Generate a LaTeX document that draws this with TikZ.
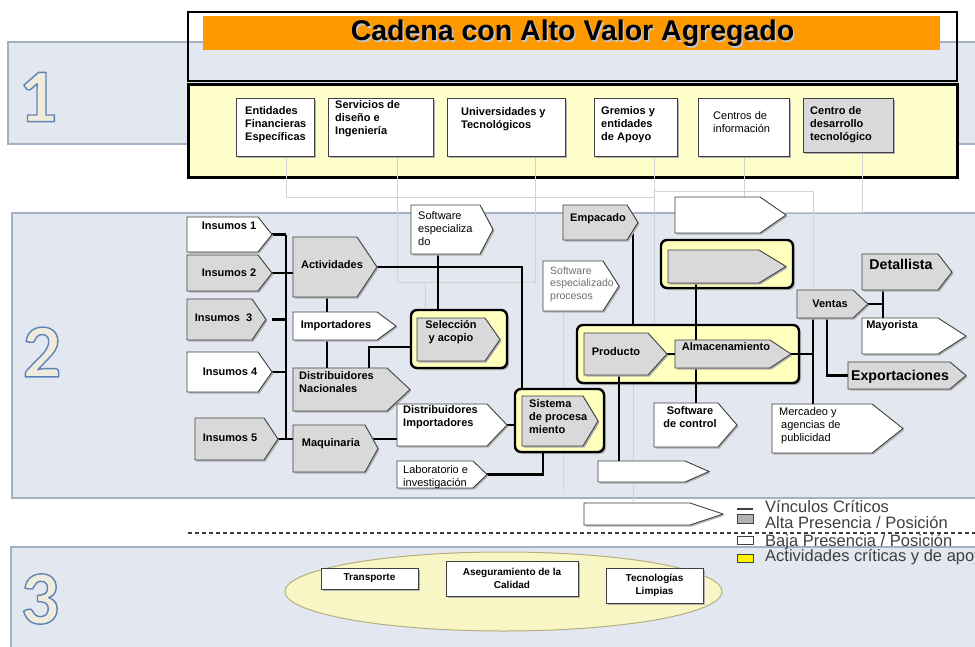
\documentclass[tikz,border=0pt]{standalone}
\usepackage{fontspec}
\setmainfont{Liberation Sans}
\newfontfamily\numfont{Carlito}
\usetikzlibrary{calc}
\definecolor{panelc}{HTML}{E3E7F0}
\definecolor{paneld}{HTML}{A3B1C7}
\definecolor{yellowc}{HTML}{FFFFCC}
\definecolor{contc}{HTML}{FFFFBE}
\definecolor{grayc}{HTML}{D9D9D9}
\definecolor{orangec}{HTML}{FF9900}
\definecolor{ellc}{HTML}{F9F6C6}
\definecolor{elld}{HTML}{B5AE7E}
\definecolor{numfill}{HTML}{EFECDD}
\definecolor{legc}{HTML}{3F3F3F}
\definecolor{shadowc}{HTML}{B0B0B0}
\definecolor{faintc}{HTML}{D2D2D2}
\definecolor{edgec}{HTML}{404040}
\definecolor{swpc}{HTML}{707070}

% outlined digit: cream fill, blue outline (text render mode 2)
\newcommand{\outlinedigit}[1]{\special{pdf:code q}\textcolor{numfill}{\special{pdf:code 2 Tr 1.4 w 1 j 0.369 0.510 0.722 RG}#1}\special{pdf:code Q}}

% pentagon arrow: name, style, x1, y1, x-rect-end, x-tip, y2
\newcommand{\mypent}[7]{%
  \fill[shadowc, shift={(1.5,1.5)}] (#3,#4) -- (#5,#4) -- (#6,{(#4+#7)/2}) -- (#5,#7) -- (#3,#7) -- cycle;
  \draw[#2] (#3,#4) -- (#5,#4) -- (#6,{(#4+#7)/2}) -- (#5,#7) -- (#3,#7) -- cycle;
  \node[inner sep=0pt, outer sep=0pt, minimum width={(#6-#3)*1pt}, minimum height={(#7-#4)*1pt}, anchor=north west] (#1) at (#3,#4) {};
}
% rectangle box with shadow: name, style, x1, y1, x2, y2
\newcommand{\myrbox}[6]{%
  \fill[shadowc] ($(#3,#4)+(2,2)$) rectangle ($(#5,#6)+(2,2)$);
  \node[#2, inner sep=0pt, outer sep=0pt, minimum width={(#5-#3)*1pt}, minimum height={(#6-#4)*1pt}, anchor=north west] (#1) at (#3,#4) {};
}
% container: name, x1, y1, x2, y2
\newcommand{\mycont}[5]{%
  \fill[shadowc, rounded corners=6pt] ($(#2,#3)+(2,2)$) rectangle ($(#4,#5)+(2,2)$);
  \node[contbox, minimum width={(#4-#2)*1pt}, minimum height={(#5-#3)*1pt}, anchor=north west] (#1) at (#2,#3) {};
}

\begin{document}
\begin{tikzpicture}[x=1pt,y=-1pt,
  panel/.style={fill=panelc, draw=paneld, line width=1.5pt},
  wbox/.style={fill=white, draw=edgec, line width=0.9pt},
  gbox/.style={fill=grayc, draw=edgec, line width=0.9pt},
  tbox/.style={fill=white, draw=edgec, line width=1pt},
  tboxg/.style={fill=grayc, draw=edgec, line width=1pt},
  contbox/.style={fill=contc, draw=black, line width=2.4pt, rounded corners=6pt, inner sep=0pt, outer sep=0pt},
  conn/.style={draw=black, line width=2.5pt},
  faint/.style={draw=faintc, line width=0.7pt},
  b11/.style={font=\fontsize{11}{13}\selectfont\bfseries, inner sep=0pt, align=left},
  r11/.style={font=\fontsize{11}{13}\selectfont, inner sep=0pt, align=left},
  b10/.style={font=\fontsize{10}{13}\selectfont\bfseries, inner sep=0pt, align=center},
  b14/.style={font=\fontsize{14.2}{16}\selectfont\bfseries, inner sep=0pt},
  legt/.style={font=\fontsize{16.5}{18}\selectfont, text=legc, inner sep=0pt, anchor=west},
  numt/.style={font=\numfont\bfseries\fontsize{76}{76}\selectfont, inner sep=0pt}
]
\useasboundingbox (0,0) rectangle (975,646);
\clip (0,0) rectangle (975,646);
\fill[white] (0,0) rectangle (975,646);

% ---------- panels ----------
\draw[panel] (8,42) rectangle (990,144);
\draw[panel] (12,213) rectangle (990,498);
\draw[panel] (11,547) rectangle (990,660);
\node[numt] (n1) at (38,97) {\outlinedigit{1}};
\node[numt] (n2) at (42,352) {\outlinedigit{2}};
\node[numt] (n3) at (40,599) {\outlinedigit{3}};

% ---------- header ----------
\draw[line width=2.6pt] (188,12) rectangle (957,81);
\fill[orangec] (203,16) rectangle (940,50);
\node[font=\fontsize{28.5}{30}\selectfont\bfseries, text=white!55!gray, inner sep=0pt] (titlesh) at (574,35) {Cadena con Alto Valor Agregado};
\node[font=\fontsize{28.5}{30}\selectfont\bfseries, inner sep=0pt] (title) at (572.5,33.5) {Cadena con Alto Valor Agregado};

\draw[fill=yellowc, line width=3pt] (188,84) rectangle (957,177);

% ---------- faint background links ----------
\draw[faint] (286,156) -- (286,197) -- (654,197);
\draw[faint] (654,156) -- (654,325);
\draw[faint] (397,156) -- (397,282) -- (535,282) -- (535,156);
\draw[faint] (425,282) -- (425,310);
\draw[faint] (654,191) -- (813,191) -- (813,290);
\draw[faint] (744,156) -- (744,212) -- (862,212) -- (862,152);
\draw[faint] (563,311) -- (563,490);
\draw[faint] (633,383) -- (633,503);

% ---------- top boxes ----------
\myrbox{b1}{tbox}{236}{98}{314}{156}
\node[b11, anchor=west] (tb1) at (245,125) {Entidades\\Financieras\\Específicas};
\myrbox{b2}{tbox}{328}{98}{433}{156}
\node[b11, anchor=west] (tb2) at (335,118.5) {Servicios de\\diseño e\\Ingeniería};
\myrbox{b3}{tbox}{447}{98}{565}{156}
\node[b11, anchor=west] (tb3) at (461,119) {Universidades y\\Tecnológicos};
\myrbox{b4}{tbox}{594}{98}{677}{156}
\node[b11, anchor=west] (tb4) at (601,125) {Gremios y\\entidades\\de Apoyo};
\myrbox{b5}{tbox}{698}{98}{789}{156}
\node[r11, anchor=west] (tb5) at (713,122.5) {Centros de\\información};
\myrbox{b6}{tboxg}{803}{98}{893}{152}
\node[b11, anchor=west] (tb6) at (810,125) {Centro de\\desarrollo\\tecnológico};

% ---------- containers ----------
\mycont{selc}{411}{310}{507}{368}
\mycont{sisc}{515}{389}{604}{452}
\mycont{almc}{661}{240}{793}{288}
\mycont{prodc}{577}{325}{799}{383}

% ---------- named helper coordinates ----------
\coordinate (busT) at (286,234.5);
\coordinate (busB) at (286,439);
\coordinate (j1) at (369,347);
\coordinate (j2) at (883,304);

% ---------- connectors ----------
\draw[conn] (busT) -- (busB);
\draw[conn] (260,234.5) -- (busT);
\draw[conn] (260,273) -- (293,273);
\draw[conn] (272,319.5) -- (286,319.5);
\draw[conn] (260,372) -- (286,372);
\draw[conn] (265,439) -- (295,439);
\draw[conn] (327,290) -- (327,375);
\draw[conn] (369,375) -- (j1) -- (411,347);
\draw[conn] (370,267) -| (522,389);
\draw[conn] (438,250) -- (438,310);
\draw[conn] (370,439) -- (400,439);
\draw[conn] (500,425) -- (515,425);
\draw[conn] (480,474.5) -| (543,452);
\draw[conn] (633,222) -- (633,325);
\draw[conn] (696,280) -- (696,405);
\draw[conn] (660,354) -- (680,354);
\draw[conn] (619,370) -- (619,461);
\draw[conn] (785,354) -- (813,354);
\draw[conn] (813,315) -- (813,404);
\draw[conn] (827,315) |- (850,375.5);
\draw[conn] (860,304) -- (j2);
\draw[conn] (883,288) -- (883,320);

% ---------- panel 2 shapes ----------
\mypent{ins1}{wbox}{187}{217}{258}{272}{252}
\node[b11] (t-ins1) at (229,226) {Insumos 1};
\mypent{ins2}{gbox}{187}{255}{258}{272}{291}
\node[b11] (t-ins2) at (229,273) {Insumos 2};
\mypent{ins3}{gbox}{187}{299}{252}{266}{340}
\node[b11] (t-ins3) at (223.5,318) {Insumos~~3};
\mypent{ins4}{wbox}{187}{352}{258}{272}{392}
\node[b11] (t-ins4) at (230,372) {Insumos 4};
\mypent{ins5}{gbox}{195}{418}{264}{278}{460}
\node[b11] (t-ins5) at (230,438) {Insumos 5};

\mypent{act}{gbox}{293}{237}{357}{377}{297}
\node[b11] (t-act) at (332,265) {Actividades};
\mypent{imp}{wbox}{293}{312}{377}{396}{340}
\node[b11] (t-imp) at (336,326) {Importadores};
\mypent{dnac}{gbox}{293}{368}{387}{410}{411}
\node[b11, anchor=west] (t-dnac) at (299,382) {Distribuidores\\Nacionales};
\mypent{maq}{gbox}{293}{425}{365}{378}{472}
\node[b11] (t-maq) at (331,444) {Maquinaria};

\mypent{sw1}{wbox}{411}{205}{480}{493}{254}
\node[r11, anchor=west] (t-sw1) at (418,229) {Software\\especializa\\do};
\mypent{sel}{gbox}{417}{318}{485}{500}{361}
\node[b11, align=center] (t-sel) at (451,332.5) {Selección\\y acopio};
\mypent{dimp}{wbox}{397}{404}{487}{507}{446}
\node[b11, anchor=west] (t-dimp) at (403,417.5) {Distribuidores\\Importadores};
\mypent{lab}{wbox}{397}{461}{473}{487}{488}
\node[r11, anchor=west] (t-lab) at (403,477.5) {Laboratorio e\\investigación};
\mypent{sis}{gbox}{522}{396}{583}{598}{446}
\node[b11, anchor=west] (t-sis) at (529,416.5) {Sistema\\de procesa\\miento};

\mypent{swp}{wbox}{543}{261}{603}{619}{311}
\node[font=\fontsize{10.5}{12.5}\selectfont, text=swpc, inner sep=0pt, align=left, anchor=west] (t-swp) at (550,284) {Software\\especializado\\procesos};
\mypent{emp}{gbox}{563}{205}{627}{638}{240}
\node[b11] (t-emp) at (598,219) {Empacado};
\mypent{wtop}{wbox}{675}{197}{760}{786}{233}
\mypent{alm2}{gbox}{668}{250}{759}{786}{283}
\mypent{prod}{gbox}{584}{333}{648}{667}{375}
\node[b11] (t-prod) at (616,352) {Producto};
\mypent{alm}{gbox}{675}{340}{770}{791}{368}
\node[b11] (t-alm) at (726,347) {Almacenamiento};
\mypent{swc}{wbox}{654}{403}{718}{737}{447}
\node[b11, align=center] (t-swc) at (690,417.5) {Software\\de control};
\mypent{merc}{wbox}{772}{404}{872}{903}{453}
\node[r11, anchor=west] (t-merc) at (779,425.5) {Mercadeo y\\\hspace{2pt}agencias de\\\hspace{2pt}publicidad};
\mypent{ven}{gbox}{797}{290}{853}{868}{318}
\node[b11] (t-ven) at (830,304) {Ventas};
\mypent{det}{gbox}{862}{254}{938}{952}{290}
\node[b14] (t-det) at (901,264) {Detallista};
\mypent{may}{wbox}{862}{318}{938}{966}{354}
\node[b11] (t-may) at (892,326) {Mayorista};
\mypent{exp}{gbox}{848}{362}{950}{966}{389}
\node[b14] (t-exp) at (900,377) {Exportaciones};
\mypent{wbot}{wbox}{598}{461}{685}{709}{482}

% ---------- legend ----------
\mypent{leg0}{wbox}{584}{503}{690}{723}{525}
\draw[line width=2.6pt, legc] (737,509) -- (753,509);
\node[fill=black!30, draw=edgec, line width=0.9pt, minimum width=16pt, minimum height=9pt, inner sep=0pt, anchor=north west] (lg2) at (737,514) {};
\node[fill=white, draw=edgec, line width=0.9pt, minimum width=16pt, minimum height=8pt, inner sep=0pt, anchor=north west] (lg3) at (737,536) {};
\node[fill=yellow, draw=edgec, line width=0.9pt, minimum width=16pt, minimum height=8pt, inner sep=0pt, anchor=north west] (lg4) at (737,554) {};
\node[legt] (lt1) at (765,506) {Vínculos Críticos};
\node[legt] (lt2) at (765,522) {Alta Presencia / Posición};
\node[legt] (lt3) at (765,542) {Baja Presencia / Posición};
\node[legt] (lt4) at (765,557) {Actividades críticas y de apoyo};
\draw[legc, line width=1.1pt, dash pattern=on 4pt off 3pt] (188,533) -- (975,533);

% ---------- panel 3 ----------
\draw[fill=ellc, draw=elld, line width=1pt] (503.5,591.5) ellipse [x radius=218.5, y radius=39.5];
\myrbox{p1}{tbox}{321}{568}{418}{589}
\node[b10] (t-p1) at (369.5,578.5) {Transporte};
\myrbox{p2}{tbox}{446}{561}{578}{596}
\node[b10] (t-p2) at (512,578) {Aseguramiento de la\\Calidad};
\myrbox{p3}{tbox}{606}{568}{703}{603}
\node[b10] (t-p3) at (654.5,585) {Tecnologías\\Limpias};
\end{tikzpicture}
\end{document}
